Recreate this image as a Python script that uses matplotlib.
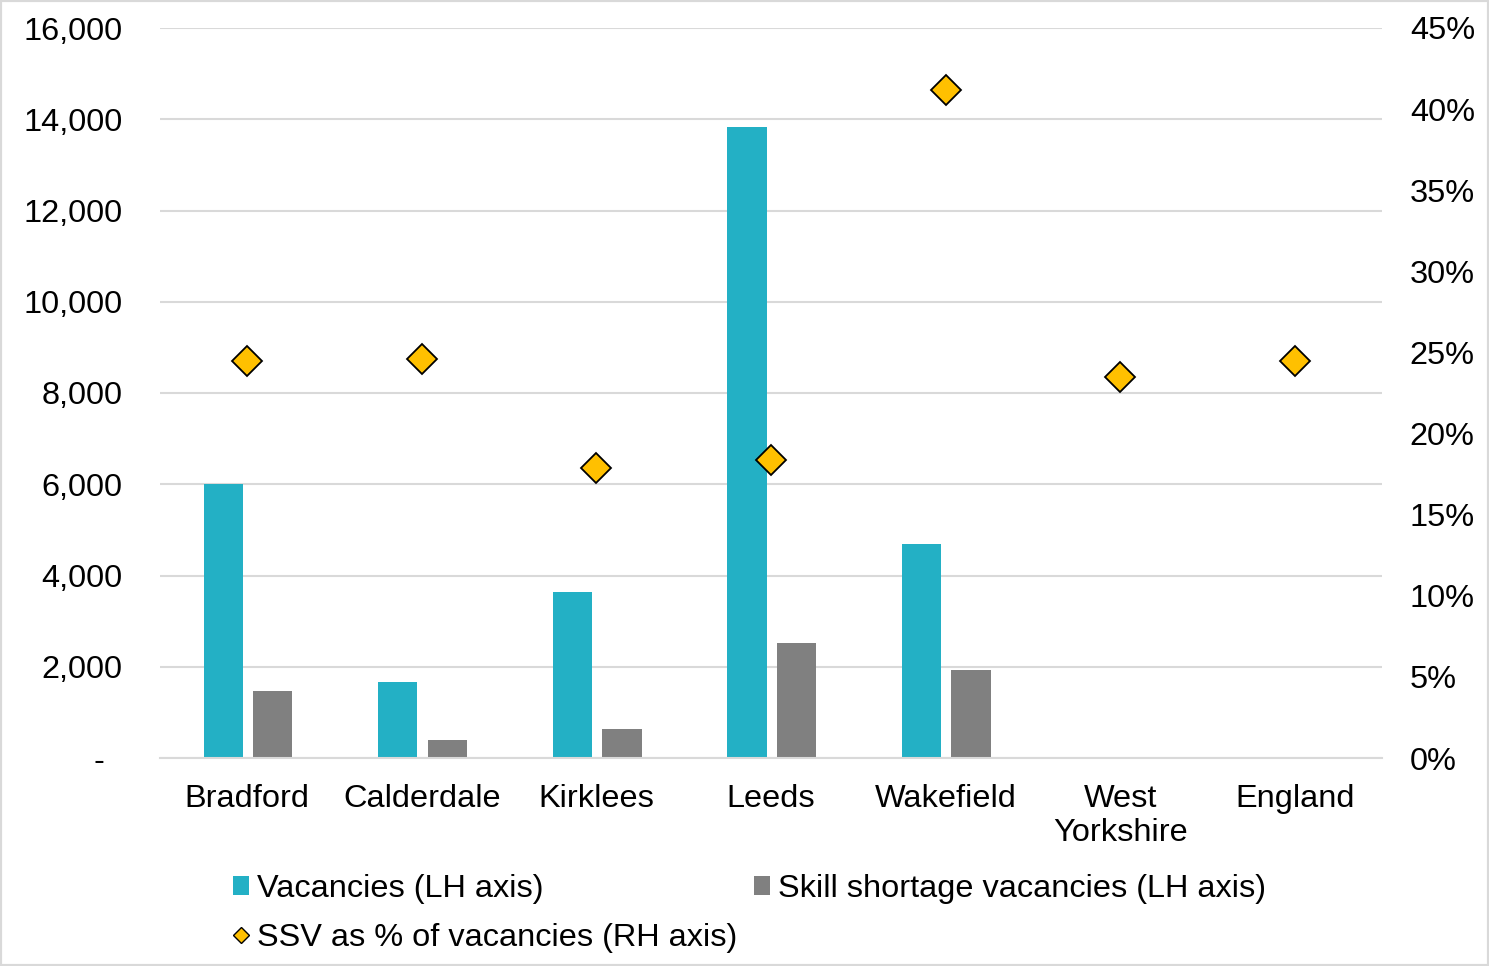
import matplotlib.pyplot as plt
from matplotlib.lines import Line2D
from matplotlib.patches import Patch
from matplotlib.ticker import FuncFormatter

plt.rcParams["font.family"] = ["Liberation Sans", "DejaVu Sans"]
plt.rcParams["font.size"] = 23.4

CATEGORIES = ["Bradford", "Calderdale", "Kirklees", "Leeds", "Wakefield",
              "West\nYorkshire", "England"]
VACANCIES = [6005, 1670, 3640, 13830, 4690, None, None]
SSV = [1470, 395, 636, 2525, 1930, None, None]
SSV_PCT = [24.5, 24.6, 17.9, 18.4, 41.2, 23.5, 24.5]

COLOR_VAC = "#23B0C5"
COLOR_SSV = "#808080"
COLOR_PCT = "#FFC000"
GRID = "#D9D9D9"

fig = plt.figure(figsize=(14.89, 9.66), dpi=100)
ax = fig.add_axes([160 / 1489, 1 - 758 / 966, 1222 / 1489, 730 / 966])
ax2 = ax.twinx()

x = list(range(len(CATEGORIES)))
w = 0.225
for i in x:
    if VACANCIES[i] is not None:
        ax.bar(i - 0.138, VACANCIES[i], width=w, color=COLOR_VAC, zorder=2)
    if SSV[i] is not None:
        ax.bar(i + 0.146, SSV[i], width=w, color=COLOR_SSV, zorder=2)

ax2.plot(x, SSV_PCT, linestyle="none", marker="D", markersize=15.5,
         markerfacecolor=COLOR_PCT, markeredgecolor="black",
         markeredgewidth=1.3, zorder=3)

ax.set_xlim(-0.5, 6.5)
ax.set_ylim(0, 16000)
ax2.set_ylim(0, 45)
ax.set_yticks(range(0, 16001, 2000))
ax2.set_yticks(range(0, 46, 5))
ax.yaxis.set_major_formatter(FuncFormatter(lambda v, p: "-  " if v == 0 else f"{int(v):,}"))
ax2.yaxis.set_major_formatter(FuncFormatter(lambda v, p: f"{int(v)}%"))
ax.set_xticks(x)
ax.set_xticklabels(CATEGORIES, linespacing=1.15)

ax.grid(axis="y", color=GRID, linewidth=1.5, zorder=0)
ax.set_axisbelow(True)
for a in (ax, ax2):
    for s in a.spines.values():
        s.set_visible(False)
ax.spines["bottom"].set_visible(True)
ax.spines["bottom"].set_color(GRID)
ax.spines["bottom"].set_linewidth(1.5)
ax.tick_params(axis="y", length=0, pad=27)
ax.tick_params(axis="x", length=0, pad=19)
ax2.tick_params(axis="y", length=0, pad=20)

handles = [
    Patch(facecolor=COLOR_VAC, label="Vacancies (LH axis)"),
    Line2D([], [], linestyle="none", marker="D", markersize=8.5,
           markerfacecolor=COLOR_PCT, markeredgecolor="black",
           markeredgewidth=1.0, label="SSV as % of vacancies (RH axis)"),
    Patch(facecolor=COLOR_SSV, label="Skill shortage vacancies (LH axis)"),
]
fig.legend(handles=handles, ncol=2, loc="upper left",
           bbox_to_anchor=(233 / 1489, 1 - 874 / 966), frameon=False,
           handlelength=0.5, handleheight=0.5, handletextpad=0.25,
           columnspacing=0.5, labelspacing=0.58, borderpad=0, borderaxespad=0)

fig.patches.append(plt.Rectangle((0, 0), 1, 1, transform=fig.transFigure,
                                 fill=False, edgecolor=GRID, linewidth=3))

fig.savefig("out.png", dpi=100)
